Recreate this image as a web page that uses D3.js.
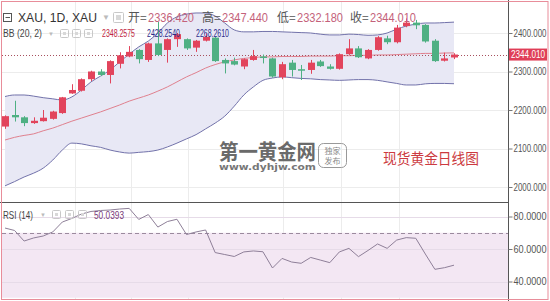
<!DOCTYPE html>
<html>
<head>
<meta charset="utf-8">
<script src="https://cdn.jsdelivr.net/npm/d3@7"></script>
<style>
body{margin:0;background:#fff;}
svg{display:block;font-family:"Liberation Sans",Arial,sans-serif;}
</style>
</head>
<body>
<div id="chart-area"></div>
<script>
// daily XAU candles
var open =[2157,2187,2181,2166,2171,2177,2192,2243,2250,2280,2300,2291,2320,2339,2356,2330,2373,2356,2384,2384,2362,2380,2388,2330,2327,2313,2330,2339,2334,2285,2323,2306,2304,2326,2313,2307,2345,2360,2334,2356,2386,2376,2418,2427,2421,2380,2328,2336.42];
var high =[2186,2224,2184,2181,2200,2198,2234,2267,2282,2302,2306,2329,2350,2366,2358,2375,2429,2386,2400,2386,2382,2399,2390,2334,2336,2334,2356,2344,2336,2325,2330,2317,2330,2330,2319,2347,2384,2366,2358,2392,2393,2421,2438,2434,2423,2384,2349,2347.44];
var low  =[2151,2170,2158,2164,2170,2175,2190,2242,2248,2275,2288,2269,2308,2337,2321,2325,2340,2323,2364,2356,2351,2378,2325,2295,2316,2306,2328,2321,2284,2280,2287,2278,2294,2312,2305,2305,2343,2335,2332,2354,2371,2373,2415,2410,2375,2325,2326,2332.18];
var close=[2184,2181,2166,2172,2180,2196,2233,2252,2280,2300,2291,2327,2342,2351,2332,2373,2343,2384,2397,2360,2380,2390,2327,2321,2318,2332,2340,2335,2287,2319,2304,2302,2323,2314,2307,2345,2360,2337,2356,2389,2376,2414,2427,2420,2378,2327,2334,2344.01];

// Bollinger (20, 2)
var bbUpper=[2235,2239,2239,2236,2232,2229,2226,2234,2252,2273,2288,2304,2325,2345,2364,2379,2400,2426,2442,2449,2452,2452,2444,2426,2408,2403,2403,2404,2404,2403,2402,2401,2400,2397,2395,2395,2397,2396,2394,2395,2400,2410,2418,2423,2426,2426,2427,2428.254];
var bbMid  =[2122,2129,2134,2138,2146,2153,2162,2171,2179,2187,2195,2204,2213,2223,2231,2239,2249,2260,2273,2286,2297,2309,2318,2325,2330,2334,2336,2338,2338,2339,2339,2339,2340,2340,2340,2341,2341,2342,2342,2343,2343,2344,2345,2346,2347,2347,2348,2348.258];
var bbLower=[2003,2014,2026,2036,2049,2070,2096,2114,2112,2107,2103,2096,2091,2088,2090,2092,2096,2104,2114,2125,2136,2151,2166,2184,2210,2239,2260,2277,2283,2286,2284,2282,2281,2279,2278,2277,2278,2279,2279,2277,2273,2269,2265,2265,2268,2269,2269,2268.261];

// RSI (14)
var rsi=[72.9,71.4,64.9,66.8,68,70.5,76.6,78.8,81.5,83.1,83.7,84,84.6,85,78.2,81.2,73.5,76.9,78.3,68.9,70.5,71.7,57.8,56.6,55.4,58.2,58.8,58.3,48.3,54.2,52,51.2,54.8,53.2,51.6,58.2,60.4,55.3,59.1,63.1,60.4,65.5,67,66.6,56.9,47.5,48.5,50.04];

var priceTicks=[2000,2100,2200,2300,2400];
var rsiTicks=[40,60,80];
var gridIdx=[7.3,13.2,19.2,29.1,35.2,41.2];
var ohlcLabels=["开","高","低","收"];
var ohlcValues=["2336.420","2347.440","2332.180","2344.010"];
var bbValues=["2348.2575","2428.2540","2268.2610"];
var rsiValue="50.0393";
var lastPrice=2344.01;

var width=550, height=301;
var axisX=508, sepY=202;
var upCol="#e2445c", downCol="#4fb083";

var svg=d3.select("#chart-area").append("svg")
    .attr("width",width)
    .attr("height",height);

var idx=d3.range(close.length);

var x=d3.scaleLinear().domain([0,47]).range([5,454]);
var y=d3.scaleLinear().domain([2000,2400]).range([187,33]);
var yr=d3.scaleLinear().domain([40,80]).range([281.5,216.5]);

var defs=svg.append("defs");
defs.append("clipPath").attr("id","clipMain")
    .append("rect").attr("x",2).attr("y",2).attr("width",axisX-2).attr("height",sepY-2);
defs.append("clipPath").attr("id","clipRsi")
    .append("rect").attr("x",2).attr("y",sepY).attr("width",axisX-2).attr("height",height-sepY-3);

// grid
var grid=svg.append("g").attr("stroke","#ececec").attr("stroke-width",1);
grid.selectAll(".hp").data(priceTicks).enter().append("line")
    .attr("x1",2).attr("x2",axisX)
    .attr("y1",d=>Math.round(y(d))+0.5).attr("y2",d=>Math.round(y(d))+0.5);
grid.selectAll(".vg").data(gridIdx).enter().append("line")
    .attr("x1",d=>Math.round(x(d))+0.5).attr("x2",d=>Math.round(x(d))+0.5)
    .attr("y1",2).attr("y2",height-2);

// bollinger bands
var main=svg.append("g").attr("clip-path","url(#clipMain)");
main.append("path")
    .datum(idx)
    .attr("fill","#e8e8f5")
    .attr("d",d3.area().curve(d3.curveMonotoneX)
        .x(i=>x(i)).y0(i=>y(bbLower[i])).y1(i=>y(bbUpper[i])));
[[bbUpper,"#7272aa"],[bbLower,"#7272aa"],[bbMid,"#e0808e"]].forEach(function(s){
    main.append("path")
        .datum(idx)
        .attr("fill","none")
        .attr("stroke",s[1])
        .attr("stroke-width",1)
        .attr("d",d3.line().curve(d3.curveMonotoneX).x(i=>x(i)).y(i=>y(s[0][i])));
});

// last price line
main.append("line")
    .attr("x1",2).attr("x2",axisX)
    .attr("y1",Math.round(y(lastPrice))+0.5).attr("y2",Math.round(y(lastPrice))+0.5)
    .attr("stroke","#a8505e").attr("stroke-dasharray","1,2");

// candles
var candles=main.selectAll(".candle").data(idx).enter().append("g");
candles.append("line")
    .attr("x1",i=>Math.round(x(i))+0.5).attr("x2",i=>Math.round(x(i))+0.5)
    .attr("y1",i=>y(high[i])).attr("y2",i=>y(low[i]))
    .attr("stroke",i=>close[i]>=open[i]?upCol:downCol);
candles.append("rect")
    .attr("x",i=>Math.round(x(i))-3)
    .attr("width",7)
    .attr("y",i=>y(Math.max(open[i],close[i])))
    .attr("height",i=>Math.max(1.5,Math.abs(y(open[i])-y(close[i]))))
    .attr("fill",i=>close[i]>=open[i]?upCol:downCol);

// rsi pane
var rp=svg.append("g").attr("clip-path","url(#clipRsi)");
rp.append("rect")
    .attr("x",2).attr("width",axisX-2)
    .attr("y",yr(70)).attr("height",yr(30)-yr(70))
    .attr("fill","#f3e7f3");
rp.selectAll(".rg").data(rsiTicks).enter().append("line")
    .attr("x1",2).attr("x2",axisX)
    .attr("y1",d=>Math.round(yr(d))+0.5).attr("y2",d=>Math.round(yr(d))+0.5)
    .attr("stroke","#e6dbe8");
rp.selectAll(".rd").data([70,30]).enter().append("line")
    .attr("x1",2).attr("x2",axisX)
    .attr("y1",d=>Math.round(yr(d))+0.5).attr("y2",d=>Math.round(yr(d))+0.5)
    .attr("stroke","#9b8a9e").attr("stroke-dasharray","4,3");
rp.append("path")
    .datum(idx)
    .attr("fill","none")
    .attr("stroke","#8e7f98")
    .attr("stroke-width",1)
    .attr("d",d3.line().x(i=>x(i)).y(i=>yr(rsi[i])));

// separators and frame
svg.append("line").attr("x1",0).attr("x2",axisX).attr("y1",sepY+0.5).attr("y2",sepY+0.5)
    .attr("stroke","#555");
svg.append("line").attr("x1",axisX+0.5).attr("x2",axisX+0.5).attr("y1",0).attr("y2",height)
    .attr("stroke","#555");
svg.append("rect").attr("x",1.5).attr("y",1.5).attr("width",width-3.5).attr("height",height-3)
    .attr("fill","none").attr("stroke","#e88d9a");

// right axes
var rightAxis=d3.axisRight(y).tickValues(priceTicks).tickFormat(d3.format(".3f")).tickSize(4).tickPadding(1);
var rsiAxis=d3.axisRight(yr).tickValues(rsiTicks).tickFormat(d3.format(".4f")).tickSize(4).tickPadding(1);
[rightAxis,rsiAxis].forEach(function(ax){
    var g=svg.append("g")
        .attr("transform","translate("+(axisX+0.5)+",0)")
        .call(ax);
    g.select(".domain").remove();
    g.selectAll("line").attr("stroke","#777");
    g.selectAll("text")
        .attr("fill","#555")
        .attr("font-size","10px")
        .attr("font-family","'Liberation Sans',Arial,sans-serif")
        .attr("textLength",33)
        .attr("lengthAdjust","spacingAndGlyphs");
});

// last price tag
svg.append("rect")
    .attr("x",axisX+1).attr("y",y(lastPrice)-6)
    .attr("width",38).attr("height",12)
    .attr("fill","#e03e57");
svg.append("text")
    .attr("x",axisX+3).attr("y",y(lastPrice)+3.5)
    .attr("font-size","10px").attr("fill","#fff")
    .attr("textLength",34).attr("lengthAdjust","spacingAndGlyphs")
    .text(d3.format(".3f")(lastPrice));

// header line 1
function icon(g,xx,yy,w){
    g.append("rect").attr("x",xx+0.5).attr("y",yy+0.5).attr("width",w).attr("height",w)
        .attr("fill","none").attr("stroke","#c8c8c8").attr("rx",1);
    g.append("rect").attr("x",xx+3).attr("y",yy+3).attr("width",w-5).attr("height",w-5)
        .attr("fill","#d8d8d8");
}
var hd=svg.append("g");
hd.append("rect").attr("x",3.5).attr("y",13.5).attr("width",8).attr("height",8)
    .attr("fill","none").attr("stroke","#555");
hd.append("line").attr("x1",5.5).attr("x2",10).attr("y1",17.5).attr("y2",17.5).attr("stroke","#555");
hd.append("text").attr("x",18).attr("y",22)
    .attr("font-size","13px").attr("fill","#333")
    .attr("textLength",79).attr("lengthAdjust","spacingAndGlyphs")
    .text("XAU, 1D, XAU");
hd.append("text").attr("x",102).attr("y",20).attr("font-size","8px").attr("fill","#bbb").text("▼");
icon(hd,113,12,10);
var ohlcX=[128,202,277,350];
ohlcLabels.forEach(function(l,k){
    hd.append("text").attr("x",ohlcX[k]).attr("y",22)
        .attr("font-size","12px").attr("fill","#555")
        .attr("font-family","'Noto Sans CJK SC',sans-serif")
        .text(l+"=");
    hd.append("text").attr("x",ohlcX[k]+20).attr("y",22)
        .attr("font-size","13px").attr("fill","#c4617a")
        .attr("textLength",46).attr("lengthAdjust","spacingAndGlyphs")
        .text(ohlcValues[k]);
});

// header line 2 (BB)
hd.append("text").attr("x",3).attr("y",37)
    .attr("font-size","11px").attr("fill","#444")
    .attr("textLength",39).attr("lengthAdjust","spacingAndGlyphs")
    .text("BB (20, 2)");
hd.append("text").attr("x",48).attr("y",36).attr("font-size","6px").attr("fill","#bbb").text("▼");
icon(hd,60,29,8); icon(hd,72,29,8); icon(hd,84,29,8);
var bbX=[102,147,196], bbCol=["#c2253f","#2c2c8c","#2c2c8c"];
bbValues.forEach(function(v,k){
    hd.append("text").attr("x",bbX[k]).attr("y",37)
        .attr("font-size","11px").attr("fill",bbCol[k])
        .attr("textLength",33).attr("lengthAdjust","spacingAndGlyphs")
        .text(v);
});

// RSI header
hd.append("text").attr("x",3).attr("y",219)
    .attr("font-size","11px").attr("fill","#444")
    .attr("textLength",30).attr("lengthAdjust","spacingAndGlyphs")
    .text("RSI (14)");
hd.append("text").attr("x",40).attr("y",217).attr("font-size","6px").attr("fill","#bbb").text("▼");
icon(hd,52,210,8); icon(hd,65,210,8); icon(hd,78,210,8);
hd.append("text").attr("x",94).attr("y",219)
    .attr("font-size","11px").attr("fill","#7a3c7a")
    .attr("textLength",30).attr("lengthAdjust","spacingAndGlyphs")
    .text(rsiValue);

// watermark
var wm=svg.append("g").attr("font-family","'Noto Sans CJK SC',sans-serif");
wm.append("text").attr("x",219).attr("y",159)
    .attr("font-size","21px").attr("font-weight","bold").attr("fill","#6a6a6a")
    .attr("textLength",97).attr("lengthAdjust","spacingAndGlyphs")
    .text("第一黄金网");
wm.append("text").attr("x",219).attr("y",170)
    .attr("font-size","9px").attr("font-weight","bold").attr("fill","#777")
    .attr("font-family","'DejaVu Sans',sans-serif")
    .attr("textLength",97).attr("lengthAdjust","spacingAndGlyphs")
    .text("www.dyhjw.com");
wm.append("rect").attr("x",318.5).attr("y",143.5).attr("width",28).attr("height",24)
    .attr("rx",5).attr("fill","none").attr("stroke","#999");
wm.append("text").attr("x",332.5).attr("y",154).attr("text-anchor","middle")
    .attr("font-size","8px").attr("fill","#888").text("独家");
wm.append("text").attr("x",332.5).attr("y",164).attr("text-anchor","middle")
    .attr("font-size","8px").attr("fill","#888").text("发布");
wm.append("text").attr("x",383).attr("y",164)
    .attr("font-size","15px").attr("fill","#cc3a40")
    .attr("textLength",96).attr("lengthAdjust","spacingAndGlyphs")
    .text("现货黄金日线图");
</script>
</body>
</html>
